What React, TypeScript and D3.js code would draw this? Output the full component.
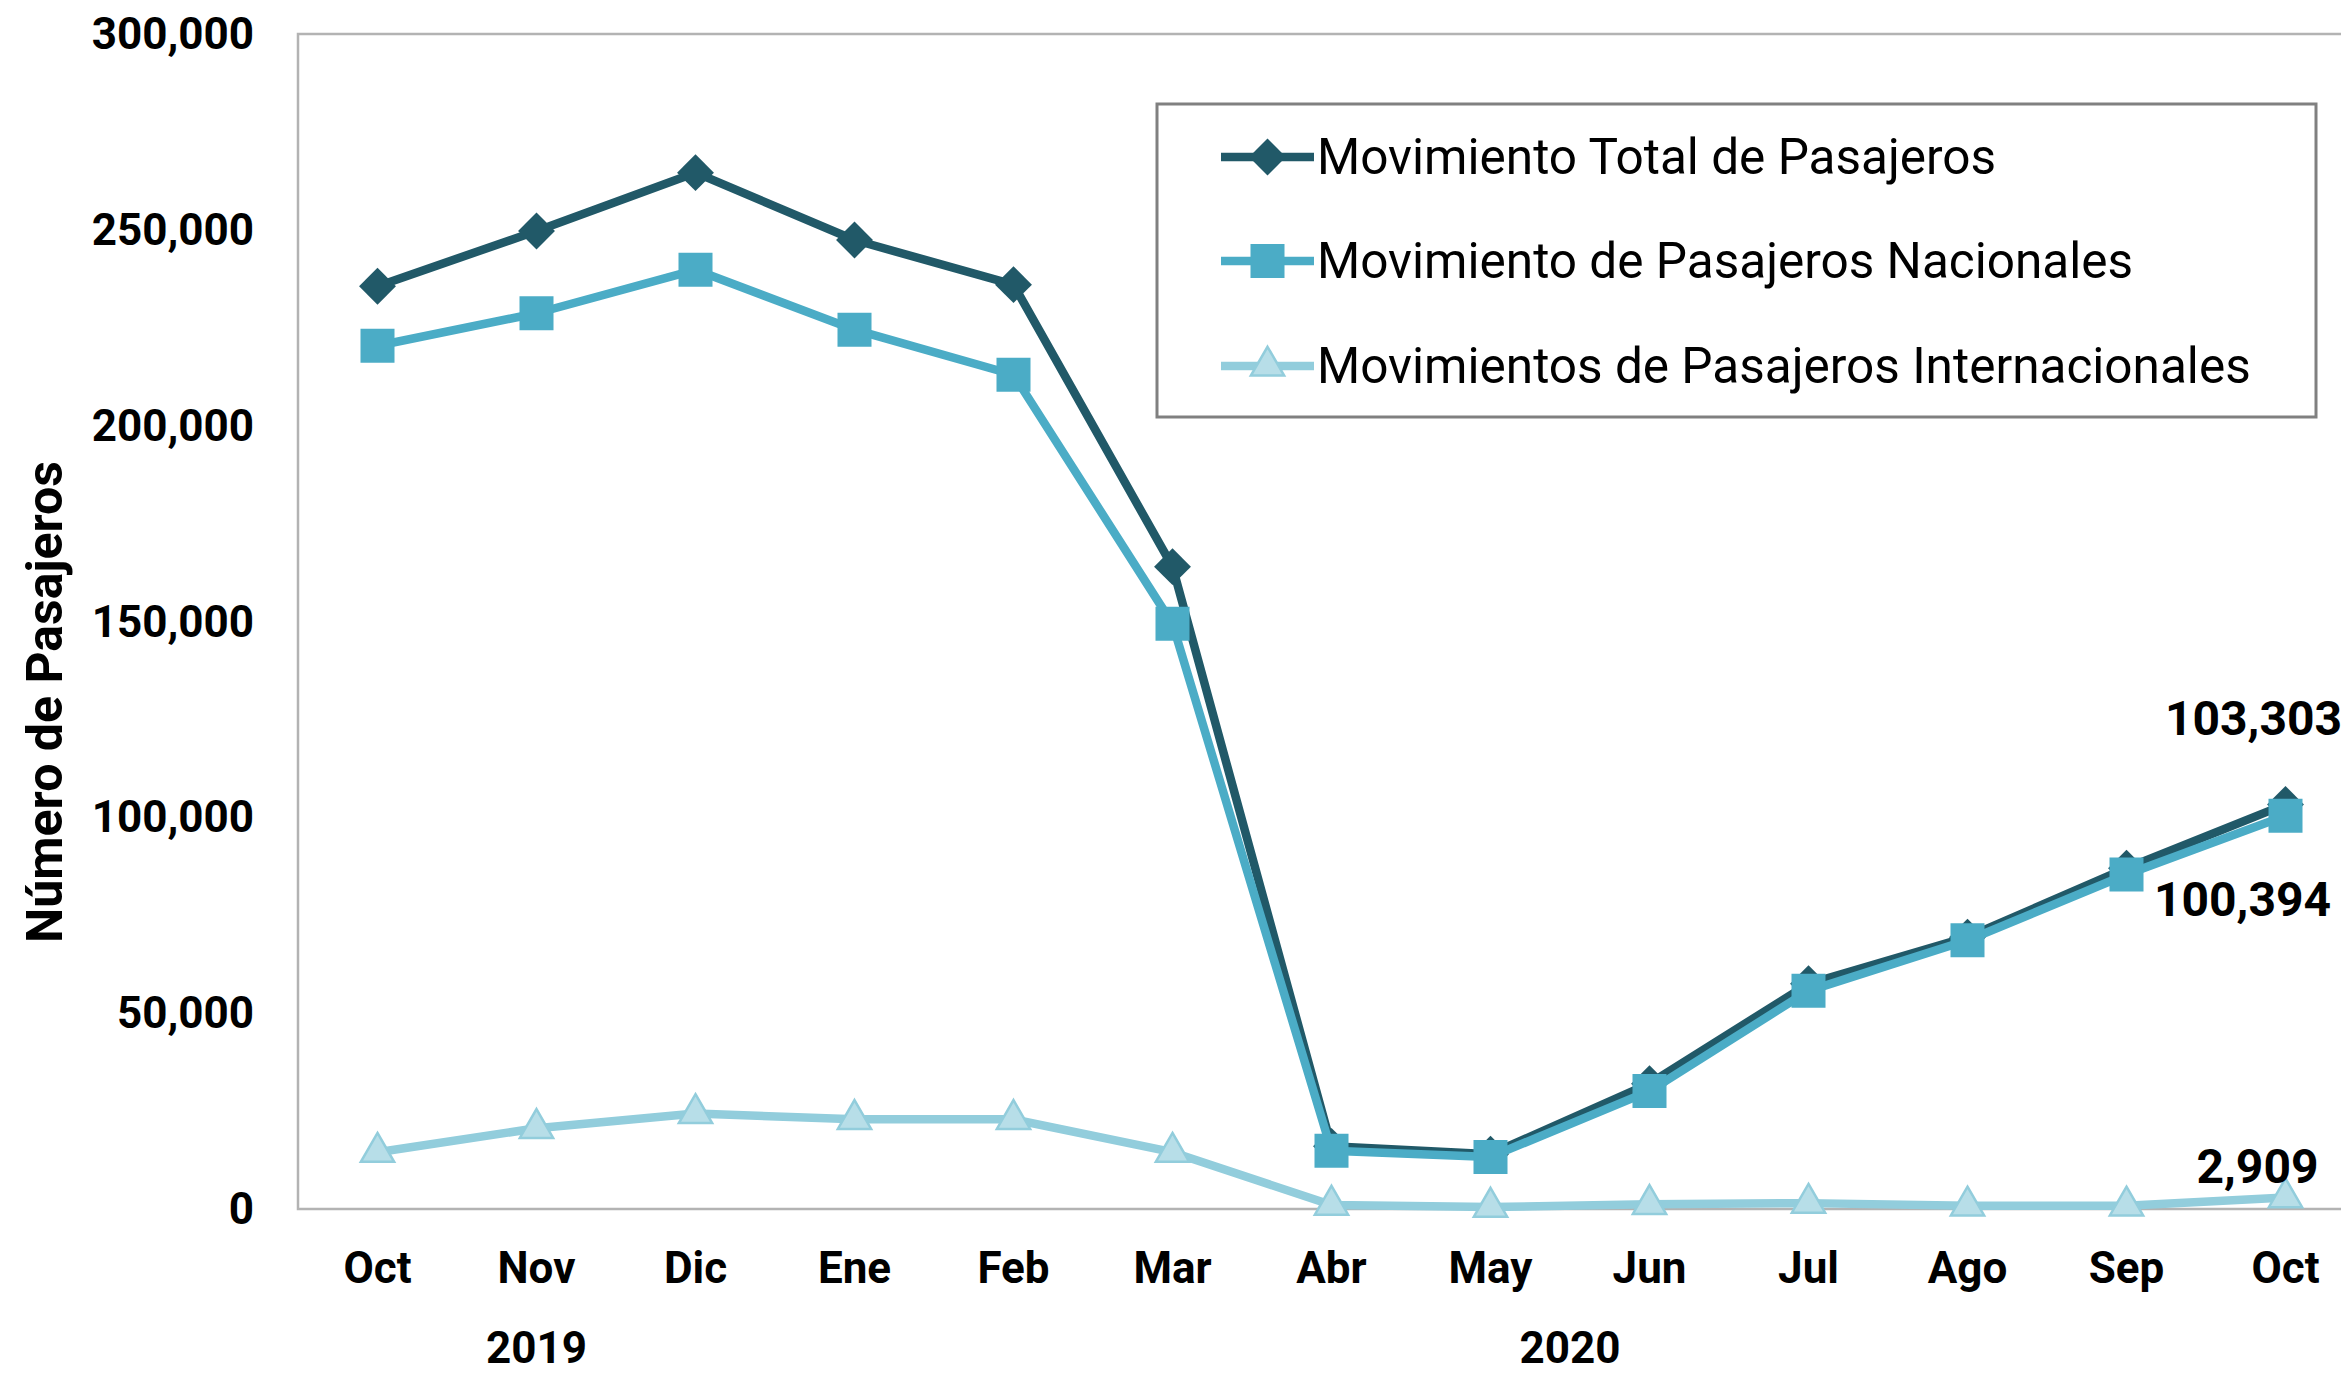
import React from 'react'
import * as d3 from 'd3'

// categories (months) and the year groups they belong to
const months = ['Oct', 'Nov', 'Dic', 'Ene', 'Feb', 'Mar', 'Abr', 'May', 'Jun', 'Jul', 'Ago', 'Sep', 'Oct']
const yearLabels = ['2019', '2020']
const yearSpans = [3, 10]

// passenger counts per month
const total = [235600, 249700, 264600, 247400, 236000, 164000, 16000, 14000, 32000, 57500, 69400, 87000, 103303]
const nacional = [220400, 228700, 239800, 224500, 213000, 149400, 14900, 13300, 30100, 55700, 68600, 85400, 100394]
const internacional = [14500, 20600, 24400, 22900, 22900, 14500, 1000, 500, 1200, 1500, 800, 800, 2909]

const yTicks = [0, 50000, 100000, 150000, 200000, 250000, 300000]

const seriesNames = [
  'Movimiento Total de Pasajeros',
  'Movimiento de Pasajeros Nacionales',
  'Movimientos de Pasajeros Internacionales',
]

const W = 2341
const H = 1380
const FONT = 'Roboto, sans-serif'

const plot = { left: 298, top: 34, bottom: 1209, band: 159 }

export default function App() {
  const keys = months.map((m, i) => i)
  const x = d3.scaleBand<number>()
    .domain(keys)
    .range([plot.left, plot.left + plot.band * months.length])
    .padding(0)
  const cx = (i: number) => (x(i) as number) + x.bandwidth() / 2
  const y = d3.scaleLinear().domain([0, 300000]).range([plot.bottom, plot.top])

  const line = d3.line<number>()
    .x((d, i) => cx(i))
    .y(d => y(d))

  const diamond = d3.symbol().type(d3.symbolSquare).size(680)()
  const square = d3.symbol().type(d3.symbolSquare).size(1156)()
  const triangle = d3.symbol().type(d3.symbolTriangle).size(480)()
  const fmt = d3.format(',')

  const series = [
    { name: seriesNames[0], values: total, color: '#215968', marker: diamond, rot: 45, fill: '#215968', stroke: 'none' },
    { name: seriesNames[1], values: nacional, color: '#4BACC6', marker: square, rot: 0, fill: '#4BACC6', stroke: 'none' },
    { name: seriesNames[2], values: internacional, color: '#92CDDC', marker: triangle, rot: 0, fill: '#B7DEE8', stroke: '#92CDDC' },
  ]

  // year group centres
  let start = 0
  const yearPos = yearLabels.map((label, k) => {
    const from = start
    const to = start + yearSpans[k] - 1
    start += yearSpans[k]
    return { label, x: (cx(from) + cx(to)) / 2 }
  })

  const last = months.length - 1
  const endLabels = [
    { v: total[last], dx: -32, dy: -86 },
    { v: nacional[last], dx: -43, dy: 84 },
    { v: internacional[last], dx: -28, dy: -31 },
  ]

  const legend = { x: 1157, y: 104, w: 1159, h: 313, rows: [157, 261, 366], lx0: 1221, lx1: 1314, tx: 1317 }

  return (
    <div style={{ position: 'absolute', left: 0, top: 0 }}>
      <svg width={W} height={H} style={{ display: 'block', background: '#fff' }} fontFamily={FONT}>
        {/* plot frame */}
        <rect x={plot.left} y={plot.top} width={plot.band * months.length} height={plot.bottom - plot.top}
          fill="none" stroke="#B3B3B3" strokeWidth={2.5} />

        {/* y ticks */}
        {yTicks.map(t => (
          <text key={t} x={254} y={y(t)} textAnchor="end" dominantBaseline="central"
            fontSize={44} fontWeight="bold" fill="#000">{fmt(t)}</text>
        ))}

        {/* y title */}
        <text transform={`translate(45,702) rotate(-90)`} textAnchor="middle"
          dominantBaseline="central" fontSize={50} fontWeight="bold" fill="#000">Número de Pasajeros</text>

        {/* x labels */}
        {months.map((m, i) => (
          <text key={i} x={cx(i)} y={1268} textAnchor="middle" dominantBaseline="central"
            fontSize={44} fontWeight="bold" fill="#000">{m}</text>
        ))}
        {yearPos.map(yp => (
          <text key={yp.label} x={yp.x} y={1348} textAnchor="middle" dominantBaseline="central"
            fontSize={44} fontWeight="bold" fill="#000">{yp.label}</text>
        ))}

        {/* series */}
        {series.map(s => (
          <g key={s.name}>
            <path d={line(s.values) as string} fill="none" stroke={s.color} strokeWidth={8.5} strokeLinejoin="round" />
            {s.values.map((v, i) => (
              <path key={i} d={s.marker as string}
                transform={`translate(${cx(i)},${y(v)}) rotate(${s.rot})`}
                fill={s.fill} stroke={s.stroke} strokeWidth={2.5} />
            ))}
          </g>
        ))}

        {/* end labels */}
        {endLabels.map((l, k) => (
          <text key={k} x={cx(last) + l.dx} y={y(l.v) + l.dy} textAnchor="middle" dominantBaseline="central"
            fontSize={48} fontWeight="bold" fill="#000">{fmt(l.v)}</text>
        ))}

        {/* legend */}
        <rect x={legend.x} y={legend.y} width={legend.w} height={legend.h} fill="#fff" stroke="#808080" strokeWidth={3} />
        {series.map((s, k) => (
          <g key={s.name}>
            <line x1={legend.lx0} x2={legend.lx1} y1={legend.rows[k]} y2={legend.rows[k]} stroke={s.color} strokeWidth={8.5} />
            <path d={s.marker as string}
              transform={`translate(${(legend.lx0 + legend.lx1) / 2},${legend.rows[k]}) rotate(${s.rot})`}
              fill={s.fill} stroke={s.stroke} strokeWidth={2.5} />
            <text x={legend.tx} y={legend.rows[k]} dominantBaseline="central" fontSize={49.5} fill="#000">{s.name}</text>
          </g>
        ))}
      </svg>
    </div>
  )
}
